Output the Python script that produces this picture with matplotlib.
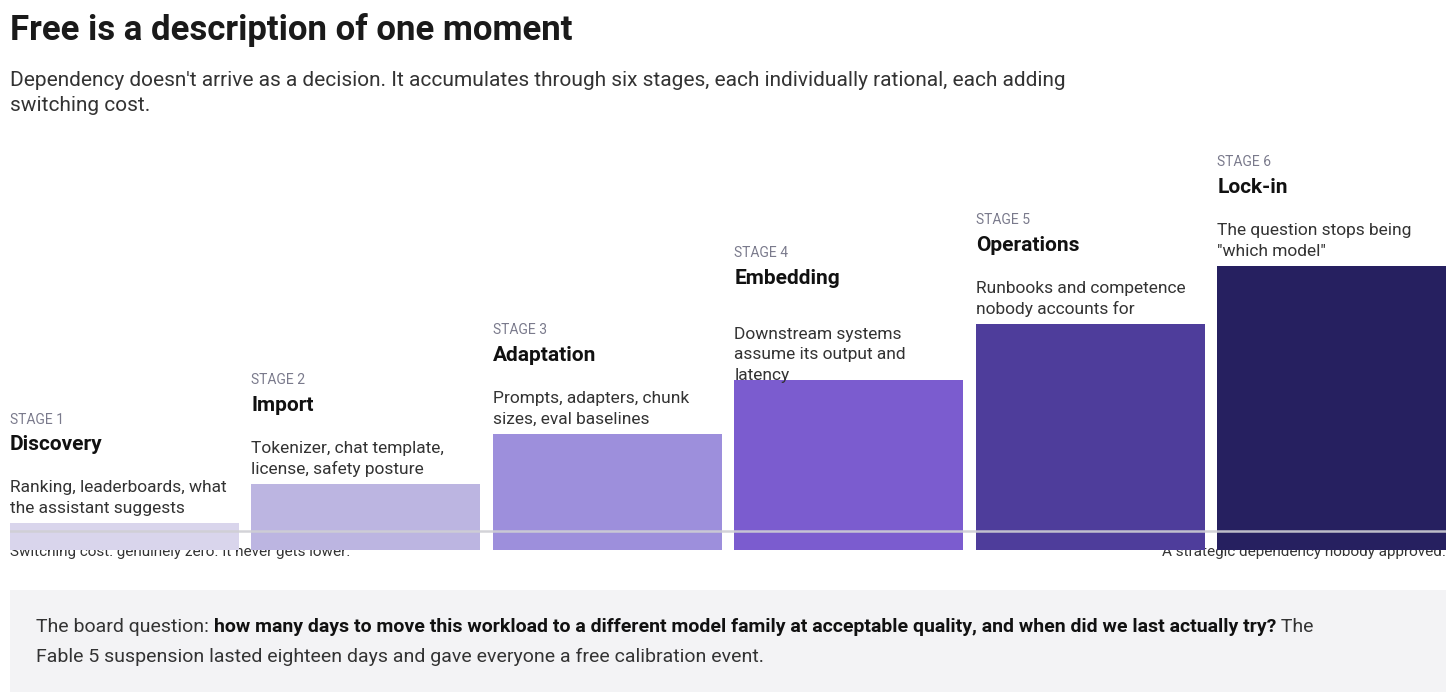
import matplotlib as mpl
import matplotlib.pyplot as plt
from matplotlib.patches import Rectangle

mpl.rcParams["font.family"] = ["Roboto", "DejaVu Sans"]

stages = ["STAGE 1", "STAGE 2", "STAGE 3", "STAGE 4", "STAGE 5", "STAGE 6"]
names = ["Discovery", "Import", "Adaptation", "Embedding", "Operations", "Lock-in"]
descs = [
    "Ranking, leaderboards, what\nthe assistant suggests",
    "Tokenizer, chat template,\nlicense, safety posture",
    "Prompts, adapters, chunk\nsizes, eval baselines",
    "Downstream systems\nassume its output and\nlatency",
    "Runbooks and competence\nnobody accounts for",
    "The question stops being\n\"which model\"",
]
cost = [27, 66, 116, 170, 226, 284]
colors = ["#d9d5ec", "#bcb5e1", "#9d8fdc", "#7b5ccf", "#4e3d9b", "#262060"]

W, H = 1456, 695
fig = plt.figure(figsize=(W / 100, H / 100), dpi=100)

# background axes in pixel coordinates
bg = fig.add_axes([0, 0, 1, 1])
bg.set_xlim(0, W)
bg.set_ylim(H, 0)
bg.axis("off")

bg.text(10, 30, "Free is a description of one moment", fontsize=25,
        fontweight="bold", color="#1a1a1a", va="center")
bg.text(10, 93, "Dependency doesn't arrive as a decision. It accumulates through six stages, "
        "each individually rational, each adding\nswitching cost.",
        fontsize=15, color="#333333", va="center", linespacing=1.45)

# bar axes: 1 unit = 1 px vertically, baseline at y=550
left, right, base, top = 10, 1446, 550, 150
ax = fig.add_axes([left / W, 1 - base / H, (right - left) / W, (base - top) / H])
ax.set_ylim(0, base - top)
bw = 0.948
ax.set_xlim(0, len(cost) - 1 + bw)
ax.axis("off")
ax.bar(range(len(cost)), cost, width=bw, align="edge", color=colors, zorder=1)
ax.axhline(19, color="#cfcfd4", lw=1.8, alpha=0.9, zorder=2)

for i, (st, nm, ds, h) in enumerate(zip(stages, names, descs, cost)):
    nlines = ds.count("\n") + 1
    ytop_desc = h + 26 + 23.5 * (nlines - 1)
    ax.text(i, h + 25, ds, fontsize=12.5, color="#333333", va="center",
            linespacing=1.45)
    ax.text(i, ytop_desc + 29, nm, fontsize=15, fontweight="bold",
            color="#111111", va="center")
    ax.text(i, ytop_desc + 54, st, fontsize=10, color="#7a7a8c",
            va="center")

bg.text(10, 552, "Switching cost: genuinely zero. It never gets lower.",
        fontsize=11, color="#333333", va="center")
bg.text(1446, 552, "A strategic dependency nobody approved.",
        fontsize=11, color="#333333", va="center", ha="right")

# bottom callout
bg.add_patch(Rectangle((10, 590), 1436, 102, facecolor="#f3f3f5",
                       edgecolor="none"))
r = fig.canvas.get_renderer()
t1 = bg.text(36, 627, "The board question: ", fontsize=14, color="#333333",
             va="center")
ext = t1.get_window_extent(r)
x1 = ext.x1
t2 = fig.text(x1 / W, 1 - 627 / H,
              "how many days to move this workload to a different model family "
              "at acceptable quality, and when did we last actually try?",
              fontsize=14, fontweight="bold", color="#111111", va="center")
ext2 = t2.get_window_extent(r)
fig.text(ext2.x1 / W, 1 - 627 / H, " The", fontsize=14, color="#333333",
         va="center")
bg.text(36, 657, "Fable 5 suspension lasted eighteen days and gave everyone "
        "a free calibration event.", fontsize=14, color="#333333", va="center")

fig.savefig("out.png", dpi=100)
